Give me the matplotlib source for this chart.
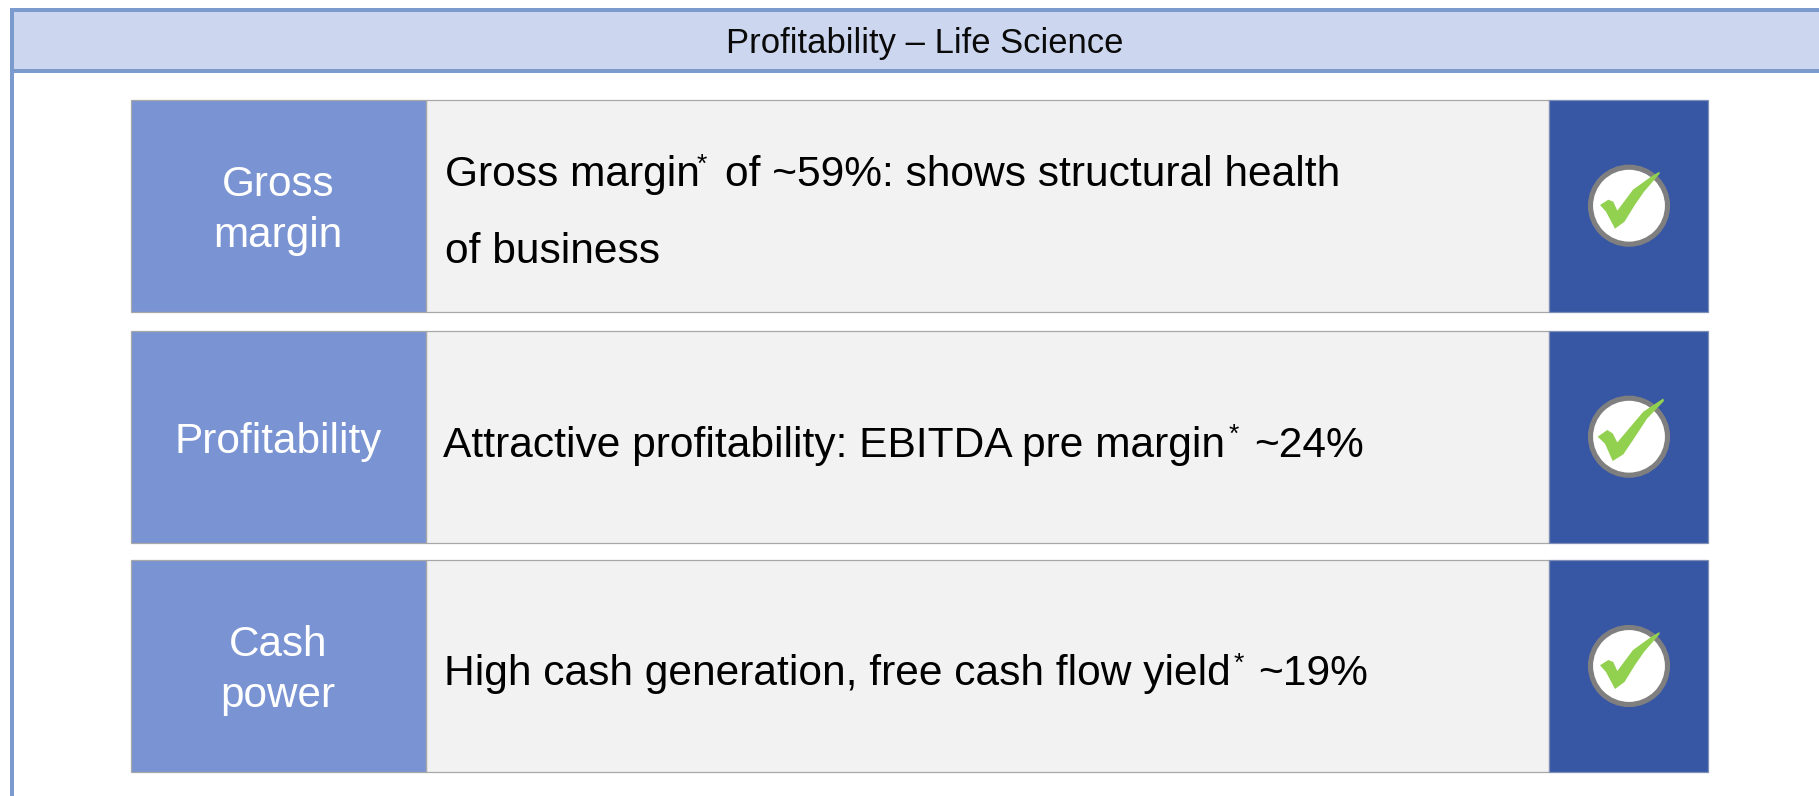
import matplotlib
matplotlib.use("Agg")
import matplotlib.pyplot as plt
from matplotlib.patches import Rectangle, Circle, Polygon

plt.rcParams['font.family'] = ['Liberation Sans', 'DejaVu Sans']

W, H = 1819, 796
title = "Profitability – Life Science"
labels = [["Gross", "margin"], ["Profitability"], ["Cash", "power"]]
label_baselines = [[195.7, 246.7], [453], [656, 706.7]]
main_before = ["Gross margin", "Attractive profitability: EBITDA pre margin", "High cash generation, free cash flow yield"]
main_after = ["of ~59%: shows structural health", "~24%", "~19%"]
main_line2 = ["of business", None, None]
main_x = [445, 443, 444]
star_x = [701.7, 1234, 1239]
after_x = [725, 1254, 1258]
main_base = [186, 456.7, 685]
star_base = [172, 442, 671]
line2_base = 262.7

row_top = [100, 331.3, 560.3]
row_bot = [311.6, 543, 771.7]
x_left, x_split, x_blue, x_right = 131, 425.7, 1549.4, 1708
circle_cy = [205.7, 436.7, 666]
circle_cx = 1629

# check-mark outlines, px offset from the circle centre
check_small = [(30.3, -34), (22, -29), (4, -16), (-11.7, 5), (-15.7, -4), (-20.7, -6), (-29, -0.7),
               (-23, 6), (-14, 23), (-4.5, 16), (6, -1), (15, -14), (30.7, -32)]
check_large = [(34.3, -38.3), (14.3, -25), (-11.7, 5.7), (-16.3, -3.3), (-21.7, -6.7), (-31.3, 0),
               (-24, 7), (-16.3, 24.3), (-5.7, 17.7), (4, 3.3), (18, -18), (35, -35.7)]
checks = [check_small, check_large, check_small]

C_FRAME, C_HEAD = "#7B9BCE", "#CCD6EF"
C_LABEL, C_MID, C_BLUE = "#7A93D2", "#F2F2F2", "#3757A4"
C_EDGE, C_RING, C_CHECK = "#A8A8A8", "#7F7F7F", "#92D050"

fig = plt.figure(figsize=(W / 100, H / 100), dpi=100, facecolor="white")
ax = fig.add_axes([0, 0, 1, 1])
ax.set_xlim(0, W)
ax.set_ylim(H, 0)
ax.axis("off")

ax.add_patch(Rectangle((10, 8), W, 64.5, facecolor=C_HEAD, edgecolor="none", zorder=1))
ax.add_patch(Rectangle((10, 8), W, 4.3, facecolor=C_FRAME, edgecolor="none", zorder=2))
ax.add_patch(Rectangle((10, 68.5), W, 4.2, facecolor=C_FRAME, edgecolor="none", zorder=2))
ax.add_patch(Rectangle((10, 8), 4.2, H, facecolor=C_FRAME, edgecolor="none", zorder=2))
ax.text(925, 52.7, title, fontsize=24.9, color="#0A0A0A", ha="center", va="baseline", zorder=5)

for i in range(3):
    t, b = row_top[i], row_bot[i]
    ax.add_patch(Rectangle((x_split, t), x_blue - x_split, b - t, facecolor=C_MID, edgecolor=C_EDGE, lw=0.9, zorder=2))
    ax.add_patch(Rectangle((x_left, t), x_split - x_left, b - t, facecolor=C_LABEL, edgecolor=C_EDGE, lw=0.9, zorder=3))
    ax.add_patch(Rectangle((x_blue, t), x_right - x_blue, b - t, facecolor=C_BLUE, edgecolor="#7E8FB5", lw=0.9, zorder=3))
    for s, y in zip(labels[i], label_baselines[i]):
        ax.text(278, y, s, fontsize=30.4, color="white", ha="center", va="baseline", zorder=5)
    ax.text(main_x[i], main_base[i], main_before[i], fontsize=30.65, color="black", va="baseline", zorder=5)
    ax.text(star_x[i], star_base[i], "*", fontsize=19, color="black", ha="center", va="baseline", zorder=5)
    ax.text(after_x[i], main_base[i], main_after[i], fontsize=30.65, color="black", va="baseline", zorder=5)
    if main_line2[i]:
        ax.text(main_x[i], line2_base, main_line2[i], fontsize=30.65, color="black", va="baseline", zorder=5)
    cy = circle_cy[i]
    ax.add_patch(Circle((circle_cx, cy), 38.5, facecolor="white", edgecolor=C_RING, lw=3.7, zorder=4))
    ax.add_patch(Polygon([(circle_cx + dx, cy + dy) for dx, dy in checks[i]], closed=True,
                         facecolor=C_CHECK, edgecolor="none", zorder=5))

fig.savefig("out.png", dpi=100, facecolor="white")
